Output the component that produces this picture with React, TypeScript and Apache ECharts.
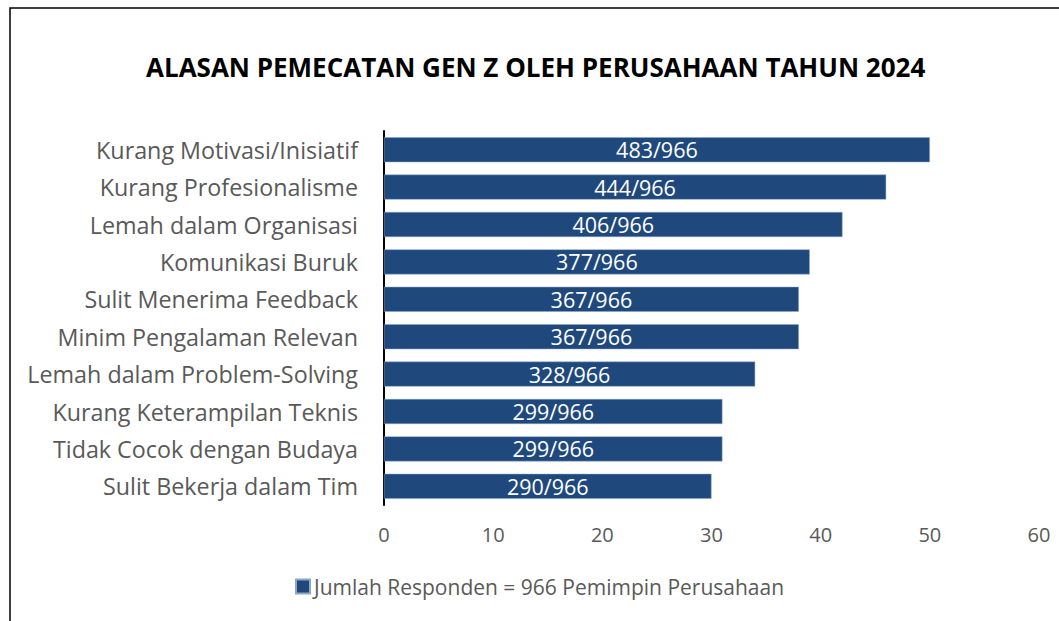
import React, { useEffect, useRef } from "react";
import * as echarts from "echarts";

const categories = [
  "Kurang Motivasi/Inisiatif",
  "Kurang Profesionalisme",
  "Lemah dalam Organisasi",
  "Komunikasi Buruk",
  "Sulit Menerima Feedback",
  "Minim Pengalaman Relevan",
  "Lemah dalam Problem-Solving",
  "Kurang Keterampilan Teknis",
  "Tidak Cocok dengan Budaya",
  "Sulit Bekerja dalam Tim",
];
const values = [50.0, 46.0, 42.0, 39.0, 38.0, 38.0, 34.0, 31.0, 31.0, 30.0];
const barLabels = [
  "483/966",
  "444/966",
  "406/966",
  "377/966",
  "367/966",
  "367/966",
  "328/966",
  "299/966",
  "299/966",
  "290/966",
];
const title = "ALASAN PEMECATAN GEN Z OLEH PERUSAHAAN TAHUN 2024";
const seriesName = "Jumlah Responden = 966 Pemimpin Perusahaan";

const FONT = "'Open Sans', 'Noto Sans', sans-serif";

export default function App() {
  const ref = useRef<HTMLDivElement>(null);
  useEffect(() => {
    if (!ref.current) return;
    const chart = echarts.init(ref.current, null, { renderer: "svg" });
    chart.setOption({
      animation: false,
      backgroundColor: "#ffffff",
      title: {
        text: title,
        left: 146,
        top: 54,
        padding: 0,
        textStyle: {
          fontFamily: FONT,
          fontWeight: "bold",
          fontSize: 26,
          color: "#000000",
        },
      },
      legend: {
        data: [seriesName],
        top: 576,
        left: 295,
        padding: 0,
        itemWidth: 14,
        itemHeight: 14,
        itemGap: 4,
        icon: "rect",
        textStyle: { fontFamily: FONT, fontSize: 21, color: "#595959", padding: [0, 0, 0, -1] },
      },
      grid: { left: 384, right: 20, top: 131, bottom: 116 },
      xAxis: {
        type: "value",
        min: 0,
        max: 60,
        interval: 10,
        axisLine: { show: false },
        axisTick: { show: false },
        splitLine: { show: false },
        axisLabel: {
          margin: 19,
          fontFamily: FONT,
          fontSize: 20,
          color: "#595959",
        },
      },
      yAxis: {
        type: "category",
        inverse: true,
        data: categories,
        axisLine: { show: true, lineStyle: { color: "#000000", width: 2 } },
        axisTick: { show: false },
        axisLabel: {
          margin: 26,
          fontFamily: FONT,
          fontSize: 23.3,
          color: "#595959",
        },
      },
      series: [
        {
          name: seriesName,
          type: "bar",
          data: values,
          barWidth: 25,
          itemStyle: { color: "#1F497D", borderColor: "#8fa6c4", borderWidth: 0.5 },
          label: {
            show: true,
            position: "inside",
            formatter: (p: any) => barLabels[p.dataIndex],
            fontFamily: FONT,
            fontSize: 21.5,
            color: "#ffffff",
          },
        },
      ],
      graphic: [
        {
          type: "rect",
          shape: { x: 10, y: 8, width: 1200, height: 800 },
          style: { fill: "none", stroke: "#000000", lineWidth: 1.5 },
          silent: true,
        },
      ],
    });
    return () => chart.dispose();
  }, []);
  return (
    <div
      ref={ref}
      style={{ position: "fixed", left: 0, top: 0, width: 1059, height: 621 }}
    />
  );
}
